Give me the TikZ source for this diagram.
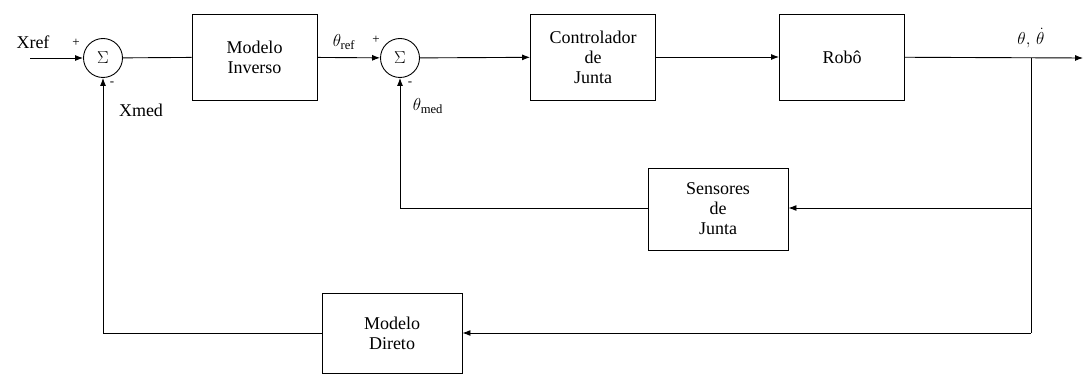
\documentclass[tikz,border=0pt]{standalone}
\usepackage{fontspec}
\setmainfont{Liberation Serif}
\usetikzlibrary{arrows.meta}
\begin{document}
\begin{tikzpicture}[x=1pt,y=-1pt,
  blk/.style={draw,line width=0.9pt,minimum width=125pt,minimum height=86pt,inner sep=0pt,align=center,font=\fontsize{18}{20}\selectfont},
  sumnode/.style={draw,circle,line width=0.9pt,minimum size=39pt,inner sep=0pt,font=\fontsize{17}{18}\selectfont},
  lbl/.style={font=\fontsize{18}{20}\selectfont,inner sep=0pt},
  sgn/.style={font=\fontsize{13}{13}\selectfont,inner sep=0pt},
  wire/.style={line width=0.9pt},
  arr/.style={wire,-{Latex[length=8pt,width=6pt]}}]
\useasboundingbox (0,0) rectangle (1090,374);
% nodes
\node[sumnode] (s1) at (103,58) {$\Sigma$};
\node[blk] (inv) at (254.5,57) {Modelo\\Inverso};
\node[sumnode] (s2) at (400,58) {$\Sigma$};
\node[blk] (ctl) at (593,57) {Controlador\\de\\Junta};
\node[blk] (rob) at (842,57) {Robô};
\node[blk,minimum width=140pt,minimum height=82pt] (sen) at (718,209) {Sensores\\de\\Junta};
\node[blk,minimum width=140pt,minimum height=80pt] (dir) at (392,333) {Modelo\\Direto};
% coordinates
\coordinate (in) at (30,58);
\coordinate (out) at (1083,58);
\coordinate (br) at (1031,58);
\coordinate (brs) at (1031,208);
\coordinate (brd) at (1031,333);
\coordinate (s2c) at (400,208);
\coordinate (s1c) at (103,333);
% connectors
\draw[arr] (in) -- (s1);
\draw[wire] (s1) -- (inv);
\draw[arr] (inv) -- (s2);
\draw[arr] (s2) -- (ctl);
\draw[arr] (ctl) -- (rob);
\draw[arr] (rob) -- (out);
\draw[wire] (br) -- (brd);
\draw[arr] (brs) -- (sen.east |- brs);
\draw[arr] (brd) -- (dir.east |- brd);
\draw[wire] (sen.west |- s2c) -- (s2c);
\draw[arr] (s2c) -- (s2);
\draw[wire] (dir.west |- s1c) -- (s1c);
\draw[arr] (s1c) -- (s1);
% labels
\node[lbl] (xref) at (33,42) {Xref};
\node[lbl] (xmed) at (141,110) {Xmed};
\node[lbl] (tref) at (344,42) {$\theta_{\mathrm{ref}}$};
\node[lbl] (tmed) at (428,106) {$\theta_{\mathrm{med}}$};
\node[lbl] (tout) at (1031,38) {$\theta,\,\dot\theta$};
\node[sgn] (p1) at (76,43) {+};
\node[sgn] (m1) at (112,84) {-};
\node[sgn] (p2) at (376,40) {+};
\node[sgn] (m2) at (410,84) {-};
\end{tikzpicture}
\end{document}
